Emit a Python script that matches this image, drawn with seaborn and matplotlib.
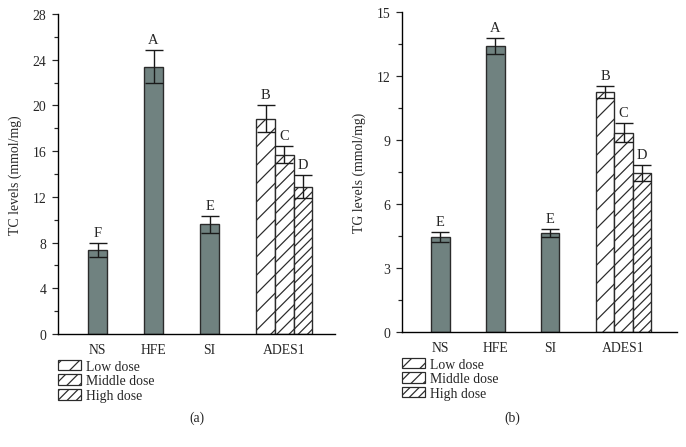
import pandas as pd
import seaborn as sns
import matplotlib.pyplot as plt
from matplotlib.patches import Patch
from matplotlib.ticker import MultipleLocator

groups = ['NS', 'HFE', 'SI', 'ADES1']
doses = ['Low dose', 'Middle dose', 'High dose']
bar_names = ['NS', 'HFE', 'SI', 'Low dose', 'Middle dose', 'High dose']

tc_means = [7.35, 23.4, 9.6, 18.85, 15.7, 12.9]
tc_err = [0.6, 1.45, 0.75, 1.2, 0.75, 1.0]
tc_letters = ['F', 'A', 'E', 'B', 'C', 'D']

tg_means = [4.45, 13.4, 4.65, 11.25, 9.35, 7.45]
tg_err = [0.25, 0.37, 0.2, 0.3, 0.45, 0.38]
tg_letters = ['E', 'A', 'E', 'B', 'C', 'D']

# layout
bar_pos = [1, 4, 7, 10, 11, 12]
group_pos = [1, 4, 7, 11]
hatches = {'Low dose': '//', 'Middle dose': '///', 'High dose': '////'}
bar_color = '#708280'

sns.set_style('ticks')
plt.rcParams['font.family'] = ['Liberation Serif', 'DejaVu Serif']
plt.rcParams['hatch.linewidth'] = 0.8
plt.rcParams['font.size'] = 9

DPI = 110
fig = plt.figure(figsize=(686 / DPI, 448 / DPI), dpi=DPI)
ax_a = fig.add_axes([0.0845, 0.2522, 0.4038, 0.7143])
ax_b = fig.add_axes([0.586, 0.2567, 0.4009, 0.7143])


def draw_panel(ax, means, errs, letters, ylabel, ymax, step, xlim):
    df = pd.DataFrame({'pos': bar_pos, 'value': means, 'name': bar_names})
    sns.barplot(data=df, x='pos', y='value', native_scale=True, width=1.0,
                color=bar_color, saturation=1, edgecolor='#2b2b2b',
                linewidth=0.9, errorbar=None, ax=ax)
    for patch, name in zip(ax.patches, bar_names):
        if name in hatches:
            patch.set_facecolor('white')
            patch.set_hatch(hatches[name])
    ax.errorbar(df['pos'], df['value'], yerr=errs, fmt='none',
                ecolor='#1a1a1a', elinewidth=0.9, capsize=5.9, capthick=0.9)
    for x, y, e, lab in zip(bar_pos, means, errs, letters):
        ax.annotate(lab, xy=(x, y + e), xytext=(0, 2.5), textcoords='offset points',
                    ha='center', va='bottom', fontsize=9.5)
    ax.set_ylim(0, ymax)
    ax.set_xlim(*xlim)
    ax.yaxis.set_major_locator(MultipleLocator(step))
    ax.yaxis.set_minor_locator(MultipleLocator(step / 2))
    ax.tick_params(axis='y', which='major', length=4, width=0.8, labelsize=9)
    ax.tick_params(axis='y', which='minor', length=2.5, width=0.8)
    ax.set_xticks(group_pos, groups)
    ax.tick_params(axis='x', length=0, labelsize=9, pad=6)
    ax.set_xlabel('')
    ax.set_ylabel(ylabel, fontsize=9, labelpad=7)
    for side in ['top', 'right']:
        ax.spines[side].set_visible(False)
    for side in ['left', 'bottom']:
        ax.spines[side].set_linewidth(0.9)
        ax.spines[side].set_color('black')
    handles = [Patch(facecolor='white', edgecolor='#2b2b2b', hatch=hatches[d],
                     linewidth=0.8, label=d) for d in doses]
    ax.legend(handles=handles, loc='upper left', bbox_to_anchor=(0.0, -0.08),
              frameon=False, borderaxespad=0, borderpad=0, handlelength=1.7,
              handleheight=0.8, handletextpad=0.35, labelspacing=0.12, fontsize=9)


draw_panel(ax_a, tc_means, tc_err, tc_letters, 'TC levels (mmol/mg)', 28, 4, (-1.12, 13.72))
draw_panel(ax_b, tg_means, tg_err, tg_letters, 'TG levels (mmol/mg)', 15, 3, (-1.1, 13.92))

fig.text(197 / 686, 1 - 418 / 448, '(a)', ha='center', va='center', fontsize=9)
fig.text(512 / 686, 1 - 418 / 448, '(b)', ha='center', va='center', fontsize=9)

fig.savefig('out.png', dpi=DPI)
plt.close(fig)
